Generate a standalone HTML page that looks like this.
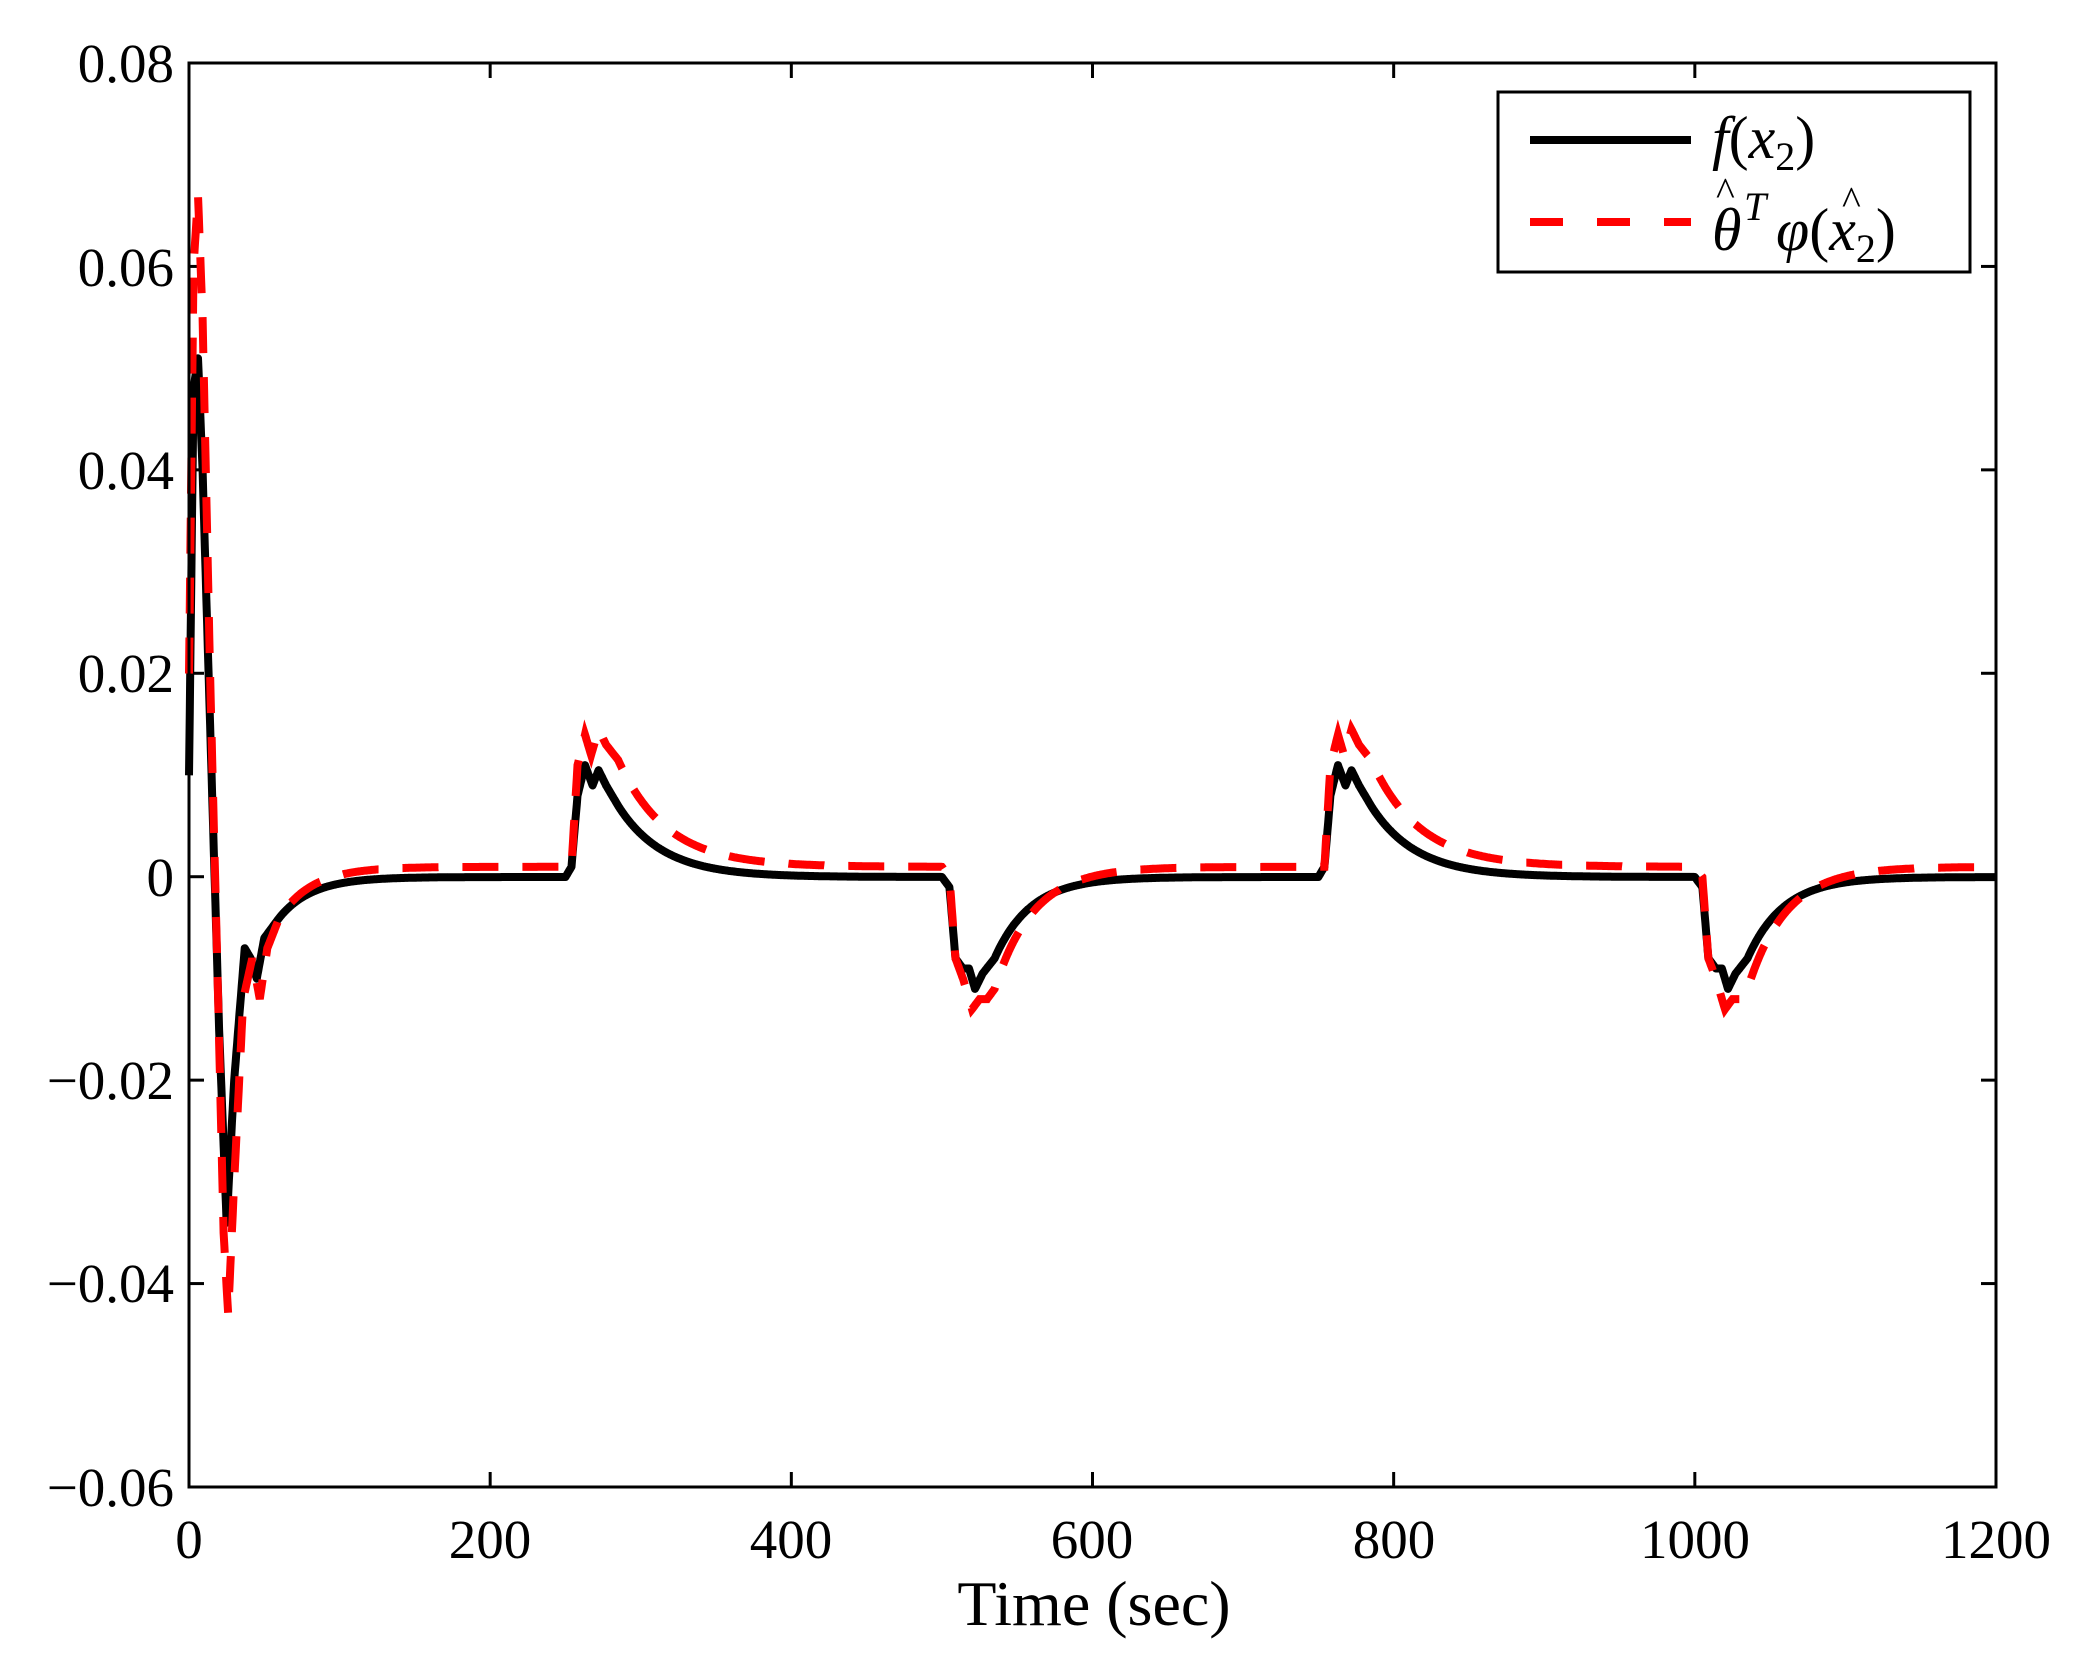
<!DOCTYPE html>
<html><head><meta charset="utf-8"><style>
html,body{margin:0;padding:0;background:#fff;}
svg{display:block;}
text{font-family:"Liberation Serif",serif;fill:#000;}
</style></head><body>
<svg id="s" width="2094" height="1671" viewBox="0 0 2094 1671" xmlns="http://www.w3.org/2000/svg">
<rect width="2094" height="1671" fill="#fff"/>
<g id="ticks" stroke="#000" stroke-width="3"></g>
<path id="blk" fill="none" stroke="#000" stroke-width="8" stroke-linejoin="round"/>
<path id="red" fill="none" stroke="#f00" stroke-width="8" stroke-dasharray="36,24"/>
<rect x="189" y="63" width="1807" height="1424" fill="none" stroke="#000" stroke-width="3"/>
<g font-size="55" text-anchor="end">
<text x="174" y="82">0.08</text>
<text x="174" y="286">0.06</text>
<text x="174" y="489">0.04</text>
<text x="174" y="692">0.02</text>
<text x="174" y="896">0</text>
<text x="174" y="1099">−0.02</text>
<text x="174" y="1302">−0.04</text>
<text x="174" y="1506">−0.06</text>
</g>
<g font-size="55" text-anchor="middle">
<text x="189" y="1558">0</text>
<text x="490" y="1558">200</text>
<text x="791" y="1558">400</text>
<text x="1092" y="1558">600</text>
<text x="1394" y="1558">800</text>
<text x="1695" y="1558">1000</text>
<text x="1996" y="1558">1200</text>
</g>
<text x="1094" y="1625" font-size="64" text-anchor="middle">Time (sec)</text>
<rect x="1498" y="92" width="472" height="180" fill="#fff" stroke="#000" stroke-width="3"/>
<line x1="1530" y1="140" x2="1691" y2="140" stroke="#000" stroke-width="8"/>
<line x1="1530" y1="222" x2="1691" y2="222" stroke="#f00" stroke-width="8" stroke-dasharray="33,34"/>
<text x="1712" y="158" font-size="60" font-style="italic">f<tspan font-style="normal">(</tspan>x<tspan font-size="40" dy="12" font-style="normal">2</tspan><tspan dy="-12" font-style="normal">)</tspan></text>
<text x="1712" y="250" font-size="60" font-style="italic">θ</text>
<text x="1716" y="205" font-size="40">^</text>
<text x="1744" y="220" font-size="40" font-style="italic">T</text>
<text x="1776" y="250" font-size="60" font-style="italic">φ<tspan font-style="normal">(</tspan>x<tspan font-size="40" dy="12" font-style="normal">2</tspan><tspan dy="-12" font-style="normal">)</tspan></text>
<text x="1842" y="214" font-size="40">^</text>
</svg>
<script>
var X=function(t){return 189+t*1807/1200;}, Y=function(v){return 877-v*10171;};
var tk=document.getElementById('ticks'),h='';
for(var i=0;i<=6;i++){var x=X(i*200);h+='<line x1="'+x+'" y1="1487" x2="'+x+'" y2="1472"/><line x1="'+x+'" y1="63" x2="'+x+'" y2="78"/>';}
for(var j=0;j<=7;j++){var y=63+j*1424/7;h+='<line x1="189" y1="'+y+'" x2="204" y2="'+y+'"/><line x1="1996" y1="'+y+'" x2="1981" y2="'+y+'"/>';}
tk.innerHTML=h;
function interp(pts,t){for(var i=1;i<pts.length;i++){if(t<=pts[i][0]){var a=pts[i-1],b=pts[i];var f=(t-a[0])/(b[0]-a[0]);return a[1]+f*(b[1]-a[1]);}}return pts[pts.length-1][1];}
function curve(init,up,dn,base,s){
 return function(t){
  if(t<60)return interp(init,t);
  if(t<250){var v=interp(init,60);return base+(v-base)*Math.exp(-(t-60)/22);}
  var c=Math.floor((t-250)/250),tt=(t-250)%250,ph=c%2;
  if(ph==0)return tt<=35?interp(up,tt):base+(interp(up,35)-base)*Math.exp(-(tt-35)/s);
  return tt<=35?interp(dn,tt):base+(interp(dn,35)-base)*Math.exp(-(tt-35)/(s*0.8));
 };
}
var b=curve([[0,0.01],[3,0.048],[6,0.051],[9,0.04],[15,0.01],[20,-0.015],[25,-0.034],[30,-0.02],[37,-0.007],[41,-0.008],[45,-0.010],[50,-0.006],[55,-0.005],[60,-0.004]],
 [[0,0],[4,0.001],[8,0.008],[13,0.011],[18,0.009],[22,0.0105],[27,0.009],[35,0.007]],
 [[0,0],[5,-0.001],[9,-0.008],[14,-0.009],[18,-0.009],[22,-0.011],[27,-0.0095],[35,-0.008]],0,30);
var r=curve([[0,0.02],[3,0.06],[6,0.067],[9,0.055],[14,0.02],[19,-0.01],[23,-0.035],[26,-0.043],[30,-0.03],[36,-0.012],[42,-0.008],[47,-0.012],[52,-0.007],[60,-0.004]],
 [[0,0.001],[4,0.001],[8,0.011],[13,0.014],[17,0.012],[22,0.0145],[27,0.013],[35,0.0115]],
 [[0,0.001],[5,0],[9,-0.008],[14,-0.010],[20,-0.013],[25,-0.012],[30,-0.012],[35,-0.011]],0.001,32);
function path(fn){var d='';for(var t=0;t<=1200;t+=0.5){d+=(t?'L':'M')+X(t).toFixed(1)+' '+Y(fn(t)).toFixed(1);}return d;}
document.getElementById('blk').setAttribute('d',path(b));
document.getElementById('red').setAttribute('d',path(r));
</script>
</body></html>
